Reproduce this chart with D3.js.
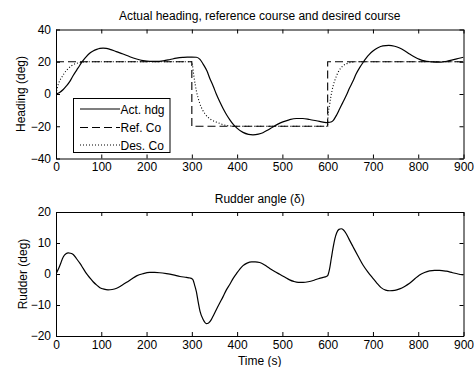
<!DOCTYPE html>
<html>
<head>
<meta charset="utf-8">
<script src="https://cdn.jsdelivr.net/npm/d3@7"></script>
<style>
  html, body { margin: 0; padding: 0; background: #fff; }
  svg { display: block; }
  text { font-family: "Liberation Sans", Arial, Helvetica, sans-serif; font-size: 12px; fill: #000; }
</style>
</head>
<body>
<svg id="chart" width="474" height="367"></svg>
<script>
// Heading response: time (s) and actual heading (deg)
const hdgTime = [0, 8, 16, 23, 31, 38, 46, 53, 60, 67, 75, 82, 90, 97, 104, 111, 119, 133, 148, 163, 178, 192, 207, 222, 237, 252, 266, 280, 290, 300, 310, 318, 325, 333, 340, 347, 354, 362, 369, 377, 384, 392, 399, 413, 425, 435, 447, 457, 468, 479, 490, 501, 515, 531, 545, 560, 582, 597, 605, 612, 619, 626, 633, 641, 648, 656, 663, 671, 678, 685, 692, 700, 711, 722, 735, 748, 759, 770, 781, 792, 803, 814, 825, 838, 851, 863, 876, 888, 900];
const hdgActual = [0, 1, 2.8, 5, 8, 11.5, 15, 18, 20.8, 23.2, 25.4, 26.7, 27.7, 28.3, 28.5, 28.3, 27.7, 26.3, 24.8, 23.1, 21.7, 20.7, 20.2, 20.2, 20.6, 21.4, 22.2, 22.7, 22.9, 22.9, 22.8, 21.5, 18.5, 14.5, 9.5, 5, 0, -5, -9, -13, -16, -19, -21, -23.8, -25, -25.3, -24.9, -24, -22.3, -20.4, -18.7, -17.3, -16, -15.2, -15.2, -15.8, -17, -17.7, -17.5, -16.5, -13.4, -9.5, -5.5, -1, 3.5, 8, 12.5, 16.5, 19.5, 22.3, 24.6, 26.7, 28.7, 29.8, 30.1, 29.6, 28.5, 26.8, 24.8, 23, 21.5, 20.5, 20, 19.7, 19.8, 20.3, 21.2, 22, 22.8];

// Reference course (step changes at 300 s and 600 s)
const refTime = [0, 300, 300, 600, 600, 900];
const refCourse = [20, 20, -20, -20, 20, 20];

// Desired course from the reference filter
const desTime = [0, 3, 7, 13, 18, 23, 28, 34, 42, 53, 65, 80, 300, 301, 305, 310, 318, 329, 343, 358, 369, 385, 400, 600, 600.7, 604.5, 609.5, 615.5, 622.8, 633.8, 648.6, 663, 900];
const desCourse = [0, 4, 7.5, 10.5, 12.8, 14.6, 16, 17.5, 18.7, 19.5, 19.9, 20, 20, 18.5, 10.2, 2, -6.2, -12.3, -16, -17.8, -19, -19.8, -20, -20, -14.4, -6.2, 2, 8.2, 13.3, 17.4, 19.4, 20, 20];

// Rudder angle (deg)
const rudTime = [0, 5, 9, 16, 22, 27, 32, 38, 45, 53, 60, 67, 75, 82, 90, 97, 106, 115, 124, 134, 145, 156, 167, 178, 192, 207, 218, 229, 244, 259, 274, 288, 296, 300, 303, 306, 310, 314, 318, 325, 332, 337, 343, 348, 354, 361, 369, 376, 384, 391, 399, 406, 413, 422, 432, 440, 450, 461, 472, 483, 494, 505, 516, 525, 535, 546, 557, 570, 582, 590, 597, 600, 604, 608, 612, 616, 620, 625, 630, 635, 641, 648, 656, 667, 678, 689, 700, 709, 718, 728, 737, 748, 759, 770, 781, 792, 803, 814, 825, 836, 847, 862, 876, 888, 900];
const rudder = [0, 1.5, 2.9, 5.5, 6.5, 6.8, 6.7, 6.3, 5, 3.4, 1.8, 0.2, -1.3, -2.5, -3.6, -4.4, -4.9, -5.1, -5, -4.6, -3.7, -2.7, -1.6, -0.6, 0.1, 0.5, 0.5, 0.4, 0.1, -0.3, -0.8, -1.1, -1.3, -1.5, -2, -3.5, -5.7, -9, -12, -14.7, -16, -15.8, -14.7, -13.3, -11.5, -9.5, -7.3, -5.2, -3.3, -1.5, 0.2, 1.6, 2.7, 3.5, 3.9, 3.9, 3.7, 2.9, 1.8, 0.8, -0.1, -1, -1.9, -2.4, -2.7, -2.7, -2.5, -2, -1.4, -1.1, -0.8, -0.5, 1.5, 5, 8.5, 11.4, 13.3, 14.4, 14.6, 14.2, 13, 11, 8.8, 5.8, 2.9, 0.6, -1.4, -3, -4.4, -5.2, -5.4, -5.3, -4.8, -4, -3, -1.6, -0.3, 0.5, 1, 1.2, 1.2, 0.9, 0.4, 0, -0.3];

// Axis ticks and labels
const timeTicks = [0, 100, 200, 300, 400, 500, 600, 700, 800, 900];
const hdgTicks = [-40, -20, 0, 20, 40];
const rudTicks = [-20, -10, 0, 10, 20];
const legendLabels = ["Act. hdg", "Ref. Co", "Des. Co"];
const legendDash = [null, "8,4", "1,2"];

const FONT = "'Liberation Sans', Arial, sans-serif";
const svg = d3.select("#chart");
svg.append("rect").attr("width", 474).attr("height", 367).attr("fill", "#fff");

const L = 56, R = 463.5;
const top1 = 29.5, bot1 = 158.5;
const top2 = 212, bot2 = 336;

const x = d3.scaleLinear().domain([0, 900]).range([L, R]);
const y1 = d3.scaleLinear().domain([-40, 40]).range([bot1, top1]);
const y2 = d3.scaleLinear().domain([-20, 20]).range([bot2, top2]);

function drawFrame(y, top, bot, yTicks) {
  const g = svg.append("g");
  const ax = (gen, tx, ty, labels) => {
    const a = gen.tickSizeInner(-4).tickSizeOuter(0);
    if (!labels) a.tickFormat("");
    const s = g.append("g").attr("transform", `translate(${tx},${ty})`).call(a);
    s.select(".domain").attr("stroke", "#000").attr("stroke-width", 1);
    s.selectAll(".tick line").attr("stroke", "#000");
    s.selectAll(".tick text").style("font-family", FONT).style("font-size", "12px").attr("fill", "#000");
    return s;
  };
  ax(d3.axisBottom(x).tickValues(timeTicks).tickFormat(d3.format("d")).tickPadding(4), 0, bot, true);
  ax(d3.axisTop(x).tickValues(timeTicks), 0, top, false);
  ax(d3.axisLeft(y).tickValues(yTicks).tickFormat(d3.format("d")).tickPadding(5), L, 0, true);
  ax(d3.axisRight(y).tickValues(yTicks), R, 0, false);
  return g;
}

// Clip paths keep the traces inside each axes box
const defs = svg.append("defs");
defs.append("clipPath").attr("id", "clip1").append("rect")
  .attr("x", L).attr("y", top1).attr("width", R - L).attr("height", bot1 - top1);
defs.append("clipPath").attr("id", "clip2").append("rect")
  .attr("x", L).attr("y", top2).attr("width", R - L).attr("height", bot2 - top2);

// ---- Heading plot ----
const zip = (ts, vs) => ts.map((t, i) => [t, vs[i]]);
const smooth1 = d3.line().x(d => x(d[0])).y(d => y1(d[1])).curve(d3.curveMonotoneX);
const linear1 = d3.line().x(d => x(d[0])).y(d => y1(d[1]));

const p1 = svg.append("g").attr("clip-path", "url(#clip1)");
p1.append("path").datum(zip(refTime, refCourse)).attr("d", linear1)
  .attr("fill", "none").attr("stroke", "#000").attr("stroke-width", 1.1).attr("stroke-dasharray", "8,4");
p1.append("path").datum(zip(desTime, desCourse)).attr("d", smooth1)
  .attr("fill", "none").attr("stroke", "#000").attr("stroke-width", 1.1).attr("stroke-dasharray", "1,2");
p1.append("path").datum(zip(hdgTime, hdgActual)).attr("d", smooth1)
  .attr("fill", "none").attr("stroke", "#000").attr("stroke-width", 1.2);

drawFrame(y1, top1, bot1, hdgTicks);

svg.append("text").attr("x", (L + R) / 2).attr("y", 20).attr("text-anchor", "middle")
  .text("Actual heading, reference course and desired course");
svg.append("text").attr("transform", `translate(25,${(top1 + bot1) / 2}) rotate(-90)`)
  .attr("text-anchor", "middle").text("Heading (deg)");

// Legend
const lg = svg.append("g");
lg.append("rect").attr("x", 73.5).attr("y", 98.5).attr("width", 96.5).attr("height", 54)
  .attr("fill", "#fff").attr("stroke", "#000").attr("stroke-width", 1);
const rowY = [109, 127.5, 145];
legendLabels.forEach((lab, i) => {
  lg.append("line").attr("x1", 80).attr("x2", 120).attr("y1", rowY[i]).attr("y2", rowY[i])
    .attr("stroke", "#000").attr("stroke-width", 1.1)
    .attr("stroke-dasharray", legendDash[i]);
  lg.append("text").attr("x", 120.5).attr("y", rowY[i] + 4.5).text(lab);
});

// ---- Rudder plot ----
const smooth2 = d3.line().x(d => x(d[0])).y(d => y2(d[1])).curve(d3.curveMonotoneX);
svg.append("g").attr("clip-path", "url(#clip2)")
  .append("path").datum(zip(rudTime, rudder)).attr("d", smooth2)
  .attr("fill", "none").attr("stroke", "#000").attr("stroke-width", 1.2);

drawFrame(y2, top2, bot2, rudTicks);

svg.append("text").attr("x", (L + R) / 2).attr("y", 203).attr("text-anchor", "middle")
  .text("Rudder angle (δ)");
svg.append("text").attr("transform", `translate(27,${(top2 + bot2) / 2}) rotate(-90)`)
  .attr("text-anchor", "middle").text("Rudder (deg)");
svg.append("text").attr("x", (L + R) / 2).attr("y", 365).attr("text-anchor", "middle")
  .text("Time (s)");
</script>
</body>
</html>
